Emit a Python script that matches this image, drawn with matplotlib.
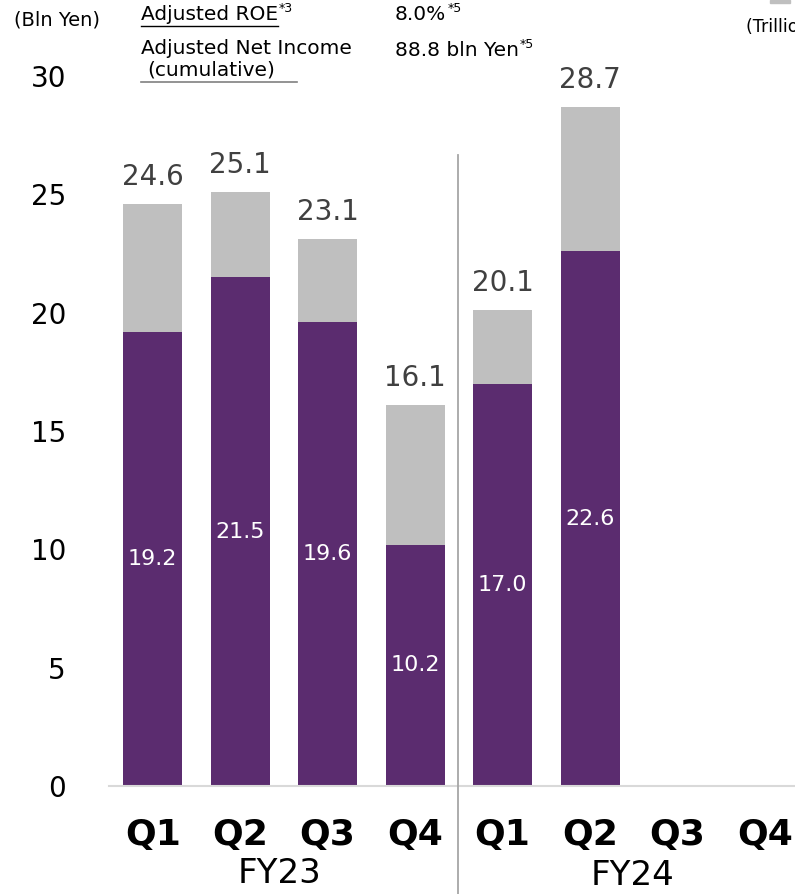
import matplotlib
matplotlib.use("Agg")
import matplotlib.pyplot as plt
from matplotlib.lines import Line2D

plt.rcParams['font.family'] = ['DejaVu Sans']

quarters = ["Q1", "Q2", "Q3", "Q4", "Q1", "Q2", "Q3", "Q4"]
fiscal_years = ["FY23", "FY24"]
net_income = [19.2, 21.5, 19.6, 10.2, 17.0, 22.6]
totals = [24.6, 25.1, 23.1, 16.1, 20.1, 28.7]
yticks = [0, 5, 10, 15, 20, 25, 30]

PURPLE = "#5B2C6F"
GRAY = "#BFBFBF"

W, H = 795, 894
fig = plt.figure(figsize=(W / 100, H / 100), dpi=100)

def fx(px):
    return px / W

def fy(py):
    return 1 - py / H

ax = fig.add_axes([fx(109), fy(786), fx(795) - fx(109), fy(0) - fy(786)])
ax.set_xlim(-0.5, 7.343)
ax.set_ylim(0, 33.22)

n = len(net_income)
xs = list(range(n))
rest = [t - v for t, v in zip(totals, net_income)]
ax.bar(xs, net_income, width=0.675, color=PURPLE, zorder=2)
ax.bar(xs, rest, bottom=net_income, width=0.675, color=GRAY, zorder=2)

for x, v, t in zip(xs, net_income, totals):
    ax.text(x, v / 2, f"{v:.1f}", ha="center", va="center", color="white", fontsize=16)
    ax.text(x, t + 0.55, f"{t:.1f}", ha="center", va="bottom", color="#404040", fontsize=20)

for s in ["top", "right", "left"]:
    ax.spines[s].set_visible(False)
ax.spines["bottom"].set_color("#D9D9D9")
ax.spines["bottom"].set_linewidth(1.5)
ax.set_yticks(yticks)
ax.set_yticklabels([str(v) for v in yticks], fontsize=20)
ax.tick_params(axis="y", length=0, pad=31)
ax.set_xticks([])

# quarter labels
for i, q in enumerate(quarters):
    ax.text(i, -2.07, q, ha="center", va="center", fontsize=26, fontweight="bold",
            clip_on=False)
ax.text(1.45, -4.40, fiscal_years[0], ha="center", va="bottom", fontsize=24.5, clip_on=False)
ax.text(5.49, -4.50, fiscal_years[1], ha="center", va="bottom", fontsize=24.5, clip_on=False)

# divider
fig.add_artist(Line2D([fx(458), fx(458)], [fy(155), fy(894)], color="#A6A6A6", lw=1.3))

# header texts
HF = 14.5
fig.text(fx(14), fy(20), "(Bln Yen)", ha="left", va="center", fontsize=14)
t_roe = fig.text(fx(141), fy(15), "Adjusted ROE", ha="left", va="center", fontsize=HF)
t_ni = fig.text(fx(141), fy(48), "Adjusted Net Income", ha="left", va="center", fontsize=HF)
fig.text(fx(147), fy(70), "(cumulative)", ha="left", va="center", fontsize=HF)
t_pct = fig.text(fx(395), fy(15), "8.0%", ha="left", va="center", fontsize=HF)
t_yen = fig.text(fx(395), fy(51), "88.8 bln Yen", ha="left", va="center", fontsize=HF)
fig.text(fx(746), fy(27), "(Trillion Yen)", ha="left", va="center", fontsize=12.5)
fig.add_artist(plt.Rectangle((fx(770), fy(3)), fx(20), fy(0) - fy(3), color=GRAY))

fig.canvas.draw()
r = fig.canvas.get_renderer()
for t, sup, ytop in [(t_roe, "*3", 9), (t_pct, "*5", 9), (t_yen, "*5", 45)]:
    bb = t.get_window_extent(renderer=r)
    fig.text(bb.x1 / W + fx(1), fy(ytop), sup, ha="left", va="center", fontsize=9)
bb = t_roe.get_window_extent(renderer=r)
fig.add_artist(Line2D([fx(141), bb.x1 / W], [fy(26), fy(26)], color="black", lw=1))
fig.add_artist(Line2D([fx(141), fx(297)], [fy(82), fy(82)], color="#808080", lw=1.2))

fig.savefig("out.png", dpi=100)
